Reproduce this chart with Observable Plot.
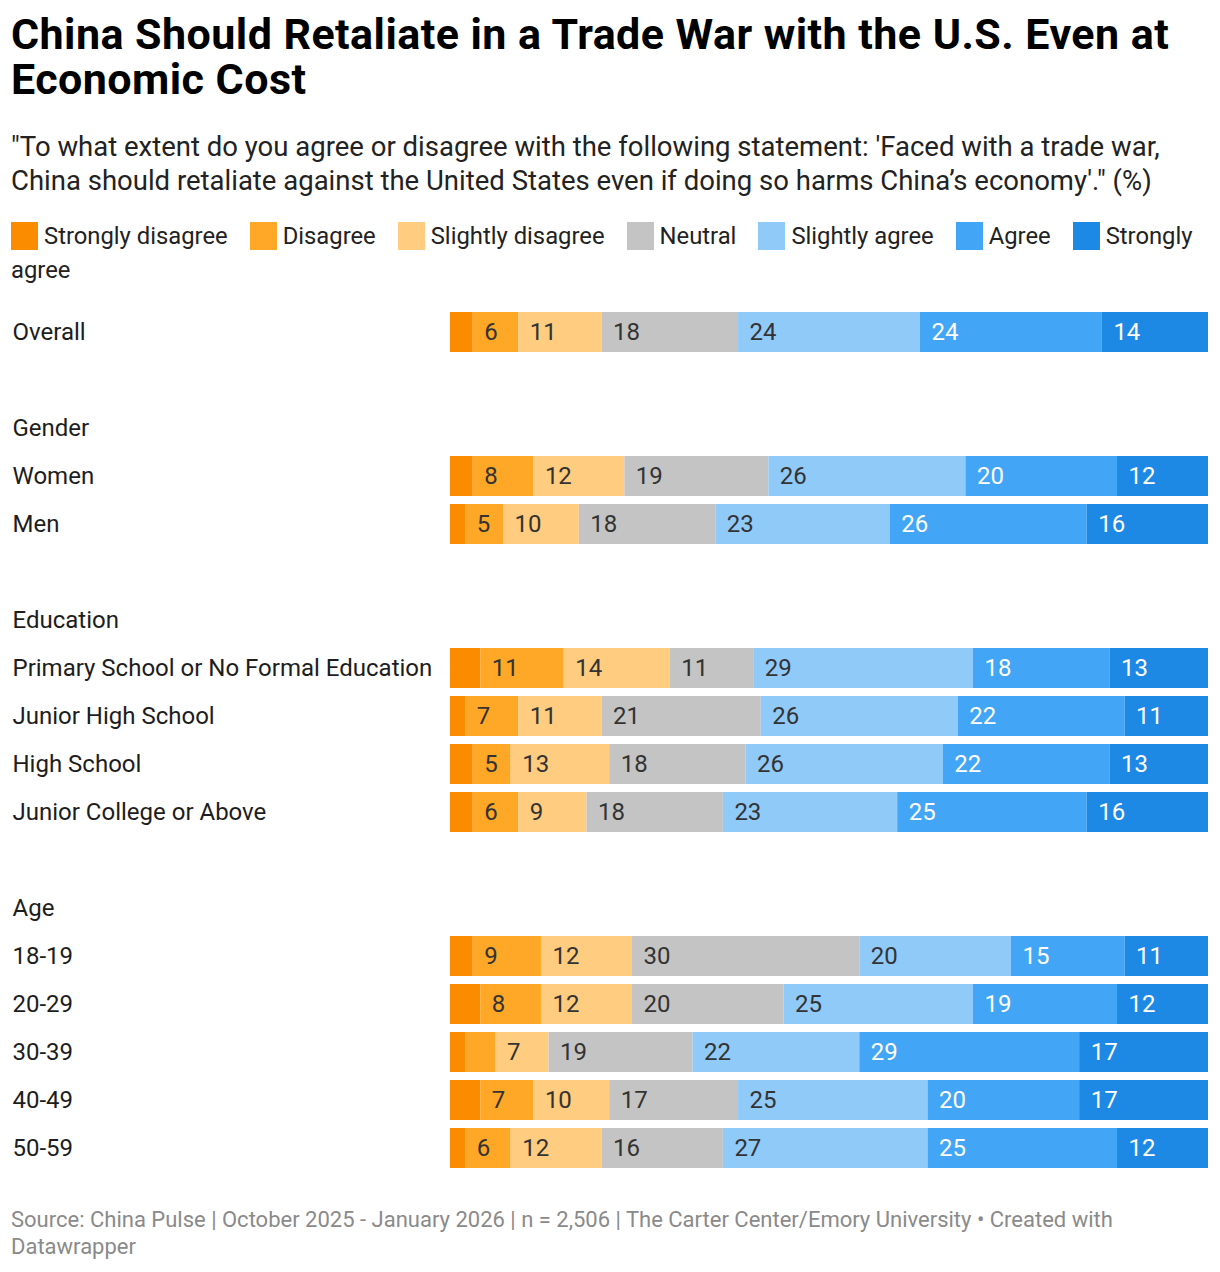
<!DOCTYPE html>
<html>
<head>
<meta charset="utf-8">
<script src="https://cdn.jsdelivr.net/npm/d3@7"></script>
<script src="https://cdn.jsdelivr.net/npm/@observablehq/plot@0.6"></script>
<style>
  body { margin: 0; background: #fff; font-family: Roboto, "Noto Sans", sans-serif; color: #1d1d1d; }
  #wrap { width: 1220px; position: relative; }
  h1 { margin: 0; padding: 12px 12px 0 11px; font-size: 43px; line-height: 45px; font-weight: 700; color: #000; letter-spacing: 0.45px; }
  .sub { margin: 28px 0 0 0; padding: 0 12px 0 11px; font-size: 27.5px; line-height: 34px; color: #222; }
  .legend { margin: 21px 0 0 0; padding: 0 12px 0 11px; font-size: 23.8px; line-height: 34px; color: #222; }
  .legend .sw { display: inline-block; width: 27px; height: 28px; vertical-align: -6px; margin-right: 6px; }
  .legend .lab { margin-right: 22px; }
  #chart svg { display: block; }
  .foot { margin: 30px 0 0 0; padding: 0 100px 0 11px; font-size: 22px; line-height: 27px; color: #8a8a8a; }
</style>
</head>
<body>
<div id="wrap">
  <h1>China Should Retaliate in a Trade War with the U.S. Even at Economic Cost</h1>
  <div class="sub">"To what extent do you agree or disagree with the following statement: 'Faced with a trade war, China should retaliate against the United States even if doing so harms China’s economy'." (%)</div>
  <div class="legend" id="legend"></div>
  <div id="chart"></div>
  <div class="foot">Source: China Pulse | October 2025 - January 2026 | n = 2,506 | The Carter Center/Emory University • Created with Datawrapper</div>
</div>
<script>
const categories = ["Strongly disagree", "Disagree", "Slightly disagree", "Neutral", "Slightly agree", "Agree", "Strongly agree"];
const colors = ["#fb8c00", "#ffa726", "#ffcc80", "#c4c4c4", "#90caf9", "#42a5f5", "#1e88e5"];
const whiteLabelCategories = ["Agree", "Strongly agree"];

// rows in display order; header rows and spacer rows have no values
const rows = ["Overall", " ", "Gender", "Women", "Men", "  ", "Education",
  "Primary School or No Formal Education", "Junior High School", "High School", "Junior College or Above",
  "   ", "Age", "18-19", "20-29", "30-39", "40-49", "50-59"];

const groups = ["Overall", "Women", "Men", "Primary School or No Formal Education", "Junior High School",
  "High School", "Junior College or Above", "18-19", "20-29", "30-39", "40-49", "50-59"];

const stronglyDisagree = [3, 3, 2, 4, 2, 3, 3, 3, 4, 2, 4, 2];
const disagree         = [6, 8, 5, 11, 7, 5, 6, 9, 8, 4, 7, 6];
const slightlyDisagree = [11, 12, 10, 14, 11, 13, 9, 12, 12, 7, 10, 12];
const neutral          = [18, 19, 18, 11, 21, 18, 18, 30, 20, 19, 17, 16];
const slightlyAgree    = [24, 26, 23, 29, 26, 26, 23, 20, 25, 22, 25, 27];
const agree            = [24, 20, 26, 18, 22, 22, 25, 15, 19, 29, 20, 25];
const stronglyAgree    = [14, 12, 16, 13, 11, 13, 16, 11, 12, 17, 17, 12];

const series = [stronglyDisagree, disagree, slightlyDisagree, neutral, slightlyAgree, agree, stronglyAgree];

const data = [];
groups.forEach((g, i) => {
  categories.forEach((c, k) => {
    data.push({group: g, category: c, value: series[k][i]});
  });
});

// legend: swatch and label as sibling inline elements
const leg = document.getElementById("legend");
categories.forEach((c, k) => {
  const sw = document.createElement("span");
  sw.className = "sw";
  sw.style.background = colors[k];
  leg.appendChild(sw);
  const lab = document.createElement("span");
  lab.className = "lab";
  lab.textContent = c;
  leg.appendChild(lab);
});

const showLabel = d => d.value >= 5;
const isWhite = d => whiteLabelCategories.includes(d.category);

const chart = Plot.plot({
  width: 1220,
  height: 17 + 872,
  marginLeft: 450,
  marginRight: 12,
  marginTop: 17,
  marginBottom: 0,
  style: {fontFamily: "Roboto, 'Noto Sans', sans-serif", fontSize: "24px", background: "#fff"},
  x: {domain: [0, 100], axis: null},
  y: {domain: rows, axis: null, padding: 1/6},
  color: {domain: categories, range: colors},
  marks: [
    Plot.barX(data, Plot.stackX({x: "value", y: "group", fill: "category", order: categories})),
    Plot.text(data, Plot.stackX1({
      x: "value", y: "group", z: "category", order: categories,
      text: d => (showLabel(d) && !isWhite(d)) ? String(d.value) : "",
      fill: "#333", textAnchor: "start", dx: 11, dy: 0, fontSize: 24
    })),
    Plot.text(data, Plot.stackX1({
      x: "value", y: "group", z: "category", order: categories,
      text: d => (showLabel(d) && isWhite(d)) ? String(d.value) : "",
      fill: "#fff", textAnchor: "start", dx: 11, dy: 0, fontSize: 24
    })),
    Plot.text(rows.filter(r => r.trim() !== ""), {
      y: d => d,
      text: d => d,
      frameAnchor: "left",
      textAnchor: "start",
      dx: -438,
      dy: 0,
      fill: "#1d1d1d",
      fontSize: 24
    })
  ]
});
document.getElementById("chart").appendChild(chart);
</script>
</body>
</html>
